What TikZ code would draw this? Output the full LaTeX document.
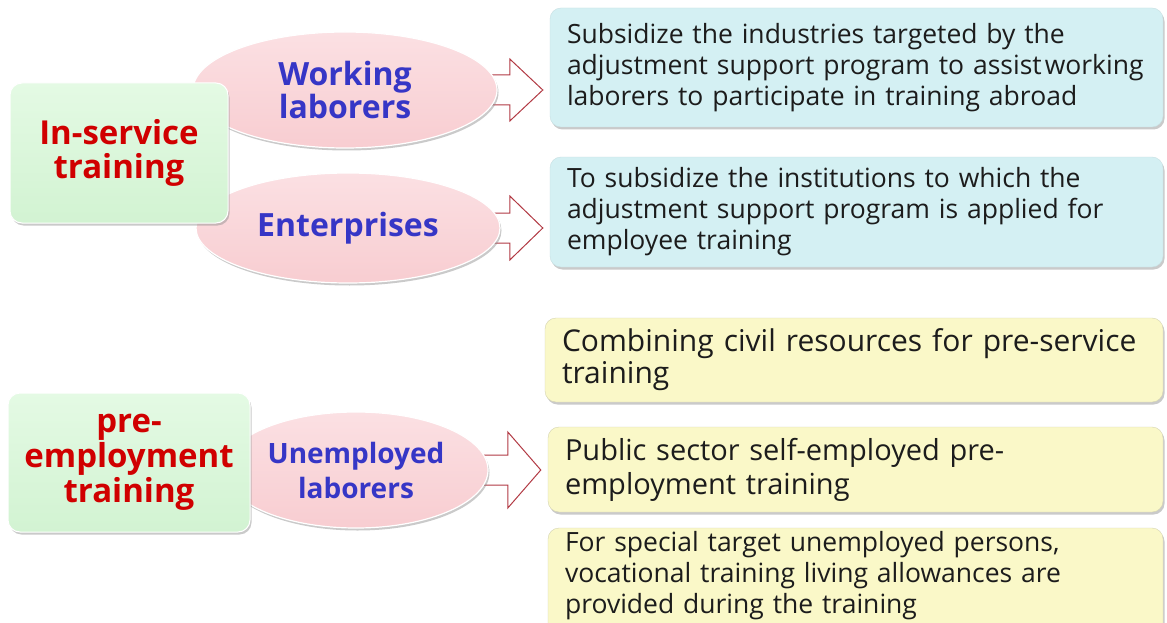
\documentclass[tikz,border=0pt]{standalone}
\usepackage{fontspec}
\setmainfont{Open Sans}
\usetikzlibrary{shapes.geometric,calc,shadows}

\definecolor{boxgreen}{HTML}{D2F3D2}
\definecolor{boxgreentop}{HTML}{E4FAE4}
\definecolor{pinkfill}{HTML}{F8CDD1}
\definecolor{pinktop}{HTML}{FBE0E3}
\definecolor{cyanfill}{HTML}{D4F0F3}
\definecolor{yellowfill}{HTML}{FAF8C8}
\definecolor{headred}{HTML}{D00000}
\definecolor{headblue}{HTML}{3636C6}
\definecolor{bodytext}{HTML}{1C1C1C}
\definecolor{arrowred}{HTML}{B23A44}
\definecolor{shadowgray}{HTML}{8A8A8A}

\pgfdeclarelayer{backdrop}
\pgfdeclarelayer{arrows}
\pgfsetlayers{backdrop,arrows,main}

\tikzset{
  softshadow/.style={drop shadow={shadow xshift=1.5pt, shadow yshift=-2.5pt,
      fill=shadowgray, opacity=0.45}},
  headbox/.style={draw=white, line width=1pt, rounded corners=12pt,
      top color=boxgreentop, bottom color=boxgreen, softshadow, inner sep=0pt,
      align=center, text=headred, font=\bfseries\fontsize{33}{34}\selectfont},
  group/.style={ellipse, draw=white, line width=1.2pt, top color=pinktop,
      bottom color=pinkfill, softshadow, inner sep=0pt, align=center,
      text=headblue, font=\bfseries\fontsize{32}{33}\selectfont},
  infobox/.style={rounded corners=11pt, softshadow, inner xsep=17pt,
      inner ysep=0pt, align=left, text=bodytext},
  cyanbox/.style={infobox, fill=cyanfill, draw=cyanfill!85!gray,
      font=\fontsize{26.5}{31}\selectfont},
  yellowbox/.style={infobox, fill=yellowfill, draw=yellowfill!70!gray},
  blockarrow/.style={draw=arrowred, fill=white, line width=1pt, line join=miter},
}

% block arrow from a group ellipse to an info box:
% #1 source, #2 target, #3 shaft half-height, #4 head half-height
\newcommand{\blockarrow}[4]{%
  \begin{pgfonlayer}{arrows}
  \draw[blockarrow] let \p1=(#1.east), \p2=(#2.west) in
    (\x1-16pt,\y1+#3) -- (\x2-40pt,\y1+#3) -- (\x2-40pt,\y1+#4)
    -- (\x2-7pt,\y1) -- (\x2-40pt,\y1-#4) -- (\x2-40pt,\y1-#3)
    -- (\x1-16pt,\y1-#3);
  \end{pgfonlayer}}

\begin{document}
\begin{tikzpicture}[x=1pt,y=-1pt]
  \begin{pgfonlayer}{backdrop}
    \fill[white] (0,0) rectangle (1167,623);
  \end{pgfonlayer}
  \useasboundingbox (0,0) rectangle (1167,623);

  % target groups
  \node[group, minimum width=304pt, minimum height=116pt] (wl) at (345,90)
    {Working\\laborers};
  \node[group, minimum width=304pt, minimum height=110pt] (en) at (348,228)
    {Enterprises};
  \node[group, minimum width=264pt, minimum height=116pt,
        font=\bfseries\fontsize{28}{35}\selectfont] (ul) at (356,470)
    {Unemployed\\laborers};

  % training categories
  \node[headbox, minimum width=218pt, minimum height=140pt] (ist) at (119,153)
    {In-service\\training};
  \node[headbox, minimum width=242pt, minimum height=139pt,
        font=\bfseries\fontsize{33}{35}\selectfont] (pet) at (129,462.5)
    {pre-\\employment\\training};

  % measures
  \node[cyanbox, minimum width=613pt, minimum height=119pt, text width=579pt]
    (bb1) at (856.5,67.5)
    {Subsidize the industries targeted by the\\
     adjustment support program to assist\kern3pt working\\
     laborers to participate in training abroad};
  \node[cyanbox, minimum width=613pt, minimum height=110pt, text width=579pt]
    (bb2) at (856.5,212)
    {To subsidize the institutions to which the\\
     adjustment support program is applied for\\
     employee training};

  \node[yellowbox, minimum width=618pt, minimum height=84pt, text width=584pt,
        font=\fontsize{30}{32}\selectfont] (yb1) at (854,360)
    {Combining civil resources for pre-service\\training};
  \node[yellowbox, minimum width=615pt, minimum height=85pt, text width=581pt,
        font=\fontsize{29}{34}\selectfont] (yb2) at (855.5,469.5)
    {Public sector self-employed pre-\\employment training};
  % the last box runs past the lower edge; the deeper text box keeps the
  % lines near its top
  \node[yellowbox, minimum width=615pt, minimum height=112pt, text width=581pt,
        text depth=85pt, font=\fontsize{26.5}{31}\selectfont] (yb3) at (855.5,584)
    {For special target unemployed persons,\\
     vocational training living allowances are\\
     provided during the training};

  % connectors
  \blockarrow{wl}{bb1}{15pt}{31pt}
  \blockarrow{en}{bb2}{15pt}{32pt}
  \blockarrow{ul}{yb2}{15pt}{38pt}
\end{tikzpicture}
\end{document}
